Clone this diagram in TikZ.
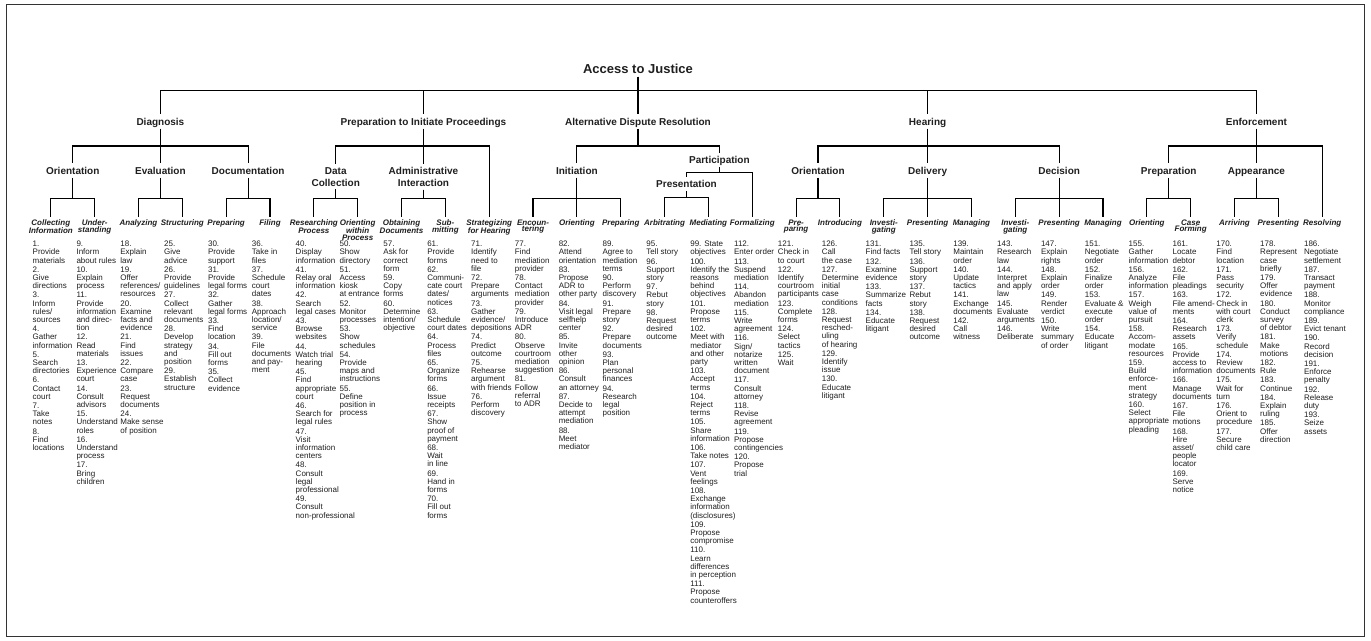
\documentclass[tikz,border=0pt]{standalone}
\usepackage{fontspec}
\setmainfont{Liberation Sans}
\definecolor{txt}{gray}{0.12}
\newcommand\NI{\\[1pt]}
\begin{document}
\begin{tikzpicture}[x=1pt,y=-1pt,
  conn/.style={line width=1.1pt, draw=black, line join=miter},
  ttl/.style={font=\bfseries\fontsize{13}{15}\selectfont, text=txt, inner xsep=1pt, inner ysep=3pt},
  lone/.style={font=\bfseries\fontsize{10}{12}\selectfont, text=txt, inner xsep=1pt, inner ysep=2.8pt, text height=8pt, text depth=0.5pt},
  ltwo/.style={font=\bfseries\fontsize{10}{12}\selectfont, text=txt, inner xsep=1pt, inner ysep=2.8pt, align=center, anchor=north},
  lthree/.style={font=\bfseries\itshape\fontsize{8}{6.8}\selectfont, text=txt, inner xsep=0pt, inner ysep=2.5pt, align=center, anchor=north},
  lst/.style={font=\fontsize{8}{8.2}\selectfont, text=txt, inner sep=0pt, align=left, anchor=north west}]
\useasboundingbox (0,0) rectangle (1371,640);
\draw[line width=0.9pt, draw=black!80] (6,4) rectangle (1364,636);

\coordinate (y0) at (0,90.7);
\coordinate (y1) at (0,146);
\coordinate (y2) at (0,198.3);
\coordinate (yP) at (0,172.3);
\coordinate (yQ) at (0,197.7);

% title and level 1
\node[ttl] (title) at (638,69) {Access to Justice};
\node[lone] (dia) at (160.4,121.55) {Diagnosis};
\node[lone] (pip) at (423.44,121.55) {Preparation to Initiate Proceedings};
\node[lone] (adr) at (638,121.55) {Alternative Dispute Resolution};
\node[lone] (hea) at (927.6,121.55) {Hearing};
\node[lone] (enf) at (1256.4,121.55) {Enforcement};

% level 2
\node[lone] (dOri) at (72.72,170.55) {Orientation};
\node[lone] (dEva) at (160.4,170.55) {Evaluation};
\node[lone] (dDoc) at (248.08,170.55) {Documentation};
\node[ltwo] (pDat) at (335.76,164.3) {Data\\Collection};
\node[ltwo] (pAdm) at (423.44,164.3) {Administrative\\Interaction};
\node[lone] (aIni) at (576.88,170.55) {Initiation};
\node[lone] (aPar) at (719.36,160.15) {Participation};
\node[lone] (aPre) at (686.48,184.15) {Presentation};
\node[lone] (hOri) at (818,170.55) {Orientation};
\node[lone] (hDel) at (927.6,170.55) {Delivery};
\node[lone] (hDec) at (1059.12,170.55) {Decision};
\node[lone] (ePre) at (1168.72,170.55) {Preparation};
\node[lone] (eApp) at (1256.4,170.55) {Appearance};

% level 3 headings
\node[lthree] (h0) at ({50.8+43.84*0},216.8) {Collecting\\Information};
\node[lthree] (h1) at ({50.8+43.84*1},216.8) {Under-\\standing};
\node[lthree] (h2) at ({50.8+43.84*2},216.8) {Analyzing};
\node[lthree] (h3) at ({50.8+43.84*3},216.8) {Structuring};
\node[lthree] (h4) at ({50.8+43.84*4},216.8) {Preparing};
\node[lthree] (h5) at ({50.8+43.84*5},216.8) {Filing};
\node[lthree] (h6) at ({50.8+43.84*6},216.8) {Researching\\Process};
\node[lthree] (h7) at ({50.8+43.84*7},216.8) {Orienting\\within\\Process};
\node[lthree] (h8) at ({50.8+43.84*8},216.8) {Obtaining\\Documents};
\node[lthree] (h9) at ({50.8+43.84*9},216.8) {Sub-\\mitting};
\node[lthree] (h10) at ({50.8+43.84*10},216.8) {Strategizing\\for Hearing};
\node[lthree] (h11) at ({50.8+43.84*11},216.8) {Encoun-\\tering};
\node[lthree] (h12) at ({50.8+43.84*12},216.8) {Orienting};
\node[lthree] (h13) at ({50.8+43.84*13},216.8) {Preparing};
\node[lthree] (h14) at ({50.8+43.84*14},216.8) {Arbitrating};
\node[lthree] (h15) at ({50.8+43.84*15},216.8) {Mediating};
\node[lthree] (h16) at ({50.8+43.84*16},216.8) {Formalizing};
\node[lthree] (h17) at ({50.8+43.84*17},216.8) {Pre-\\paring};
\node[lthree] (h18) at ({50.8+43.84*18},216.8) {Introducing};
\node[lthree] (h19) at ({50.8+43.84*19},216.8) {Investi-\\gating};
\node[lthree] (h20) at ({50.8+43.84*20},216.8) {Presenting};
\node[lthree] (h21) at ({50.8+43.84*21},216.8) {Managing};
\node[lthree] (h22) at ({50.8+43.84*22},216.8) {Investi-\\gating};
\node[lthree] (h23) at ({50.8+43.84*23},216.8) {Presenting};
\node[lthree] (h24) at ({50.8+43.84*24},216.8) {Managing};
\node[lthree] (h25) at ({50.8+43.84*25},216.8) {Orienting};
\node[lthree] (h26) at ({50.8+43.84*26},216.8) {Case\\Forming};
\node[lthree] (h27) at ({50.8+43.84*27},216.8) {Arriving};
\node[lthree] (h28) at ({50.8+43.84*28},216.8) {Presenting};
\node[lthree] (h29) at ({50.8+43.84*29},216.8) {Resolving};

% lists
\node[lst] (l0) at ({32.5+43.84*0},241) {1.\\Provide\\materials\NI 2.\\Give\\directions\NI 3.\\Inform\\rules/\\sources\NI 4.\\Gather\\information\NI 5.\\Search\\directories\NI 6.\\Contact\\court\NI 7.\\Take\\notes\NI 8.\\Find\\locations};
\node[lst] (l1) at ({32.5+43.84*1},241) {9.\\Inform\\about rules\NI 10.\\Explain\\process\NI 11.\\Provide\\information\\and direc-\\tion\NI 12.\\Read\\materials\NI 13.\\Experience\\court\NI 14.\\Consult\\advisors\NI 15.\\Understand\\roles\NI 16.\\Understand\\process\NI 17.\\Bring\\children};
\node[lst] (l2) at ({32.5+43.84*2},241) {18.\\Explain\\law\NI 19.\\Offer\\references/\\resources\NI 20.\\Examine\\facts and\\evidence\NI 21.\\Find\\issues\NI 22.\\Compare\\case\NI 23.\\Request\\documents\NI 24.\\Make sense\\of position};
\node[lst] (l3) at ({32.5+43.84*3},241) {25.\\Give\\advice\NI 26.\\Provide\\guidelines\NI 27.\\Collect\\relevant\\documents\NI 28.\\Develop\\strategy\\and\\position\NI 29.\\Establish\\structure};
\node[lst] (l4) at ({32.5+43.84*4},241) {30.\\Provide\\support\NI 31.\\Provide\\legal forms\NI 32.\\Gather\\legal forms\NI 33.\\Find\\location\NI 34.\\Fill out\\forms\NI 35.\\Collect\\evidence};
\node[lst] (l5) at ({32.5+43.84*5},241) {36.\\Take in\\files\NI 37.\\Schedule\\court\\dates\NI 38.\\Approach\\location/\\service\NI 39.\\File\\documents\\and pay-\\ment};
\node[lst] (l6) at ({32.5+43.84*6},241) {40.\\Display\\information\NI 41.\\Relay oral\\information\NI 42.\\Search\\legal cases\NI 43.\\Browse\\websites\NI 44.\\Watch trial\\hearing\NI 45.\\Find\\appropriate\\court\NI 46.\\Search for\\legal rules\NI 47.\\Visit\\information\\centers\NI 48.\\Consult\\legal\\professional\NI 49.\\Consult\\non-professional};
\node[lst] (l7) at ({32.5+43.84*7},241) {50.\\Show\\directory\NI 51.\\Access\\kiosk\\at entrance\NI 52.\\Monitor\\processes\NI 53.\\Show\\schedules\NI 54.\\Provide\\maps and\\instructions\NI 55.\\Define\\position in\\process};
\node[lst] (l8) at ({32.5+43.84*8},241) {57.\\Ask for\\correct\\form\NI 59.\\Copy\\forms\NI 60.\\Determine\\intention/\\objective};
\node[lst] (l9) at ({32.5+43.84*9},241) {61.\\Provide\\forms\NI 62.\\Communi-\\cate court\\dates/\\notices\NI 63.\\Schedule\\court dates\NI 64.\\Process\\files\NI 65.\\Organize\\forms\NI 66.\\Issue\\receipts\NI 67.\\Show\\proof of\\payment\NI 68.\\Wait\\in line\NI 69.\\Hand in\\forms\NI 70.\\Fill out\\forms};
\node[lst] (l10) at ({32.5+43.84*10},241) {71.\\Identify\\need to\\file\NI 72.\\Prepare\\arguments\NI 73.\\Gather\\evidence/\\depositions\NI 74.\\Predict\\outcome\NI 75.\\Rehearse\\argument\\with friends\NI 76.\\Perform\\discovery};
\node[lst] (l11) at ({32.5+43.84*11},241) {77.\\Find\\mediation\\provider\NI 78.\\Contact\\mediation\\provider\NI 79.\\Introduce\\ADR\NI 80.\\Observe\\courtroom\\mediation\\suggestion\NI 81.\\Follow\\referral\\to ADR};
\node[lst] (l12) at ({32.5+43.84*12},241) {82.\\Attend\\orientation\NI 83.\\Propose\\ADR to\\other party\NI 84.\\Visit legal\\selfhelp\\center\NI 85.\\Invite\\other\\opinion\NI 86.\\Consult\\an attorney\NI 87.\\Decide to\\attempt\\mediation\NI 88.\\Meet\\mediator};
\node[lst] (l13) at ({32.5+43.84*13},241) {89.\\Agree to\\mediation\\terms\NI 90.\\Perform\\discovery\NI 91.\\Prepare\\story\NI 92.\\Prepare\\documents\NI 93.\\Plan\\personal\\finances\NI 94.\\Research\\legal\\position};
\node[lst] (l14) at ({32.5+43.84*14},241) {95.\\Tell story\NI 96.\\Support\\story\NI 97.\\Rebut\\story\NI 98.\\Request\\desired\\outcome};
\node[lst] (l15) at ({32.5+43.84*15},241) {99. State\\objectives\NI 100.\\Identify the\\reasons\\behind\\objectives\NI 101.\\Propose\\terms\NI 102.\\Meet with\\mediator\\and other\\party\NI 103.\\Accept\\terms\NI 104.\\Reject\\terms\NI 105.\\Share\\information\NI 106.\\Take notes\NI 107.\\Vent\\feelings\NI 108.\\Exchange\\information\\(disclosures)\NI 109.\\Propose\\compromise\NI 110.\\Learn\\differences\\in perception\NI 111.\\Propose\\counteroffers};
\node[lst] (l16) at ({32.5+43.84*16},241) {112.\\Enter order\NI 113.\\Suspend\\mediation\NI 114.\\Abandon\\mediation\NI 115.\\Write\\agreement\NI 116.\\Sign/\\notarize\\written\\document\NI 117.\\Consult\\attorney\NI 118.\\Revise\\agreement\NI 119.\\Propose\\contingencies\NI 120.\\Propose\\trial};
\node[lst] (l17) at ({32.5+43.84*17},241) {121.\\Check in\\to court\NI 122.\\Identify\\courtroom\\participants\NI 123.\\Complete\\forms\NI 124.\\Select\\tactics\NI 125.\\Wait};
\node[lst] (l18) at ({32.5+43.84*18},241) {126.\\Call\\the case\NI 127.\\Determine\\initial\\case\\conditions\NI 128.\\Request\\resched-\\uling\\of hearing\NI 129.\\Identify\\issue\NI 130.\\Educate\\litigant};
\node[lst] (l19) at ({32.5+43.84*19},241) {131.\\Find facts\NI 132.\\Examine\\evidence\NI 133.\\Summarize\\facts\NI 134.\\Educate\\litigant};
\node[lst] (l20) at ({32.5+43.84*20},241) {135.\\Tell story\NI 136.\\Support\\story\NI 137.\\Rebut\\story\NI 138.\\Request\\desired\\outcome};
\node[lst] (l21) at ({32.5+43.84*21},241) {139.\\Maintain\\order\NI 140.\\Update\\tactics\NI 141.\\Exchange\\documents\NI 142.\\Call\\witness};
\node[lst] (l22) at ({32.5+43.84*22},241) {143.\\Research\\law\NI 144.\\Interpret\\and apply\\law\NI 145.\\Evaluate\\arguments\NI 146.\\Deliberate};
\node[lst] (l23) at ({32.5+43.84*23},241) {147.\\Explain\\rights\NI 148.\\Explain\\order\NI 149.\\Render\\verdict\NI 150.\\Write\\summary\\of order};
\node[lst] (l24) at ({32.5+43.84*24},241) {151.\\Negotiate\\order\NI 152.\\Finalize\\order\NI 153.\\Evaluate \&\\execute\\order\NI 154.\\Educate\\litigant};
\node[lst] (l25) at ({32.5+43.84*25},241) {155.\\Gather\\information\NI 156.\\Analyze\\information\NI 157.\\Weigh\\value of\\pursuit\NI 158.\\Accom-\\modate\\resources\NI 159.\\Build\\enforce-\\ment\\strategy\NI 160.\\Select\\appropriate\\pleading};
\node[lst] (l26) at ({32.5+43.84*26},241) {161.\\Locate\\debtor\NI 162.\\File\\pleadings\NI 163.\\File amend-\\ments\NI 164.\\Research\\assets\NI 165.\\Provide\\access to\\information\NI 166.\\Manage\\documents\NI 167.\\File\\motions\NI 168.\\Hire\\asset/\\people\\locator\NI 169.\\Serve\\notice};
\node[lst] (l27) at ({32.5+43.84*27},241) {170.\\Find\\location\NI 171.\\Pass\\security\NI 172.\\Check in\\with court\\clerk\NI 173.\\Verify\\schedule\NI 174.\\Review\\documents\NI 175.\\Wait for\\turn\NI 176.\\Orient to\\procedure\NI 177.\\Secure\\child care};
\node[lst] (l28) at ({32.5+43.84*28},241) {178.\\Represent\\case\\briefly\NI 179.\\Offer\\evidence\NI 180.\\Conduct\\survey\\of debtor\NI 181.\\Make\\motions\NI 182.\\Rule\NI 183.\\Continue\NI 184.\\Explain\\ruling\NI 185.\\Offer\\direction};
\node[lst] (l29) at ({32.5+43.84*29},241) {186.\\Negotiate\\settlement\NI 187.\\Transact\\payment\NI 188.\\Monitor\\compliance\NI 189.\\Evict tenant\NI 190.\\Record\\decision\NI 191.\\Enforce\\penalty\NI 192.\\Release\\duty\NI 193.\\Seize\\assets};

% connectors
\foreach \p/\c/\y in {title/dia/y0, title/pip/y0, title/adr/y0, title/hea/y0, title/enf/y0,
  dia/dOri/y1, dia/dEva/y1, dia/dDoc/y1,
  pip/pDat/y1, pip/pAdm/y1, pip/h10/y1,
  adr/aIni/y1, adr/aPar/y1,
  hea/hOri/y1, hea/hDel/y1, hea/hDec/y1,
  enf/ePre/y1, enf/eApp/y1, enf/h29/y1,
  dOri/h0/y2, dOri/h1/y2, dEva/h2/y2, dEva/h3/y2, dDoc/h4/y2, dDoc/h5/y2,
  pDat/h6/y2, pDat/h7/y2, pAdm/h8/y2, pAdm/h9/y2,
  aIni/h11/y2, aIni/h12/y2, aIni/h13/y2,
  aPar/aPre/yP, aPar/h16/yP, aPre/h14/yQ, aPre/h15/yQ,
  hOri/h17/y2, hOri/h18/y2, hDel/h19/y2, hDel/h20/y2, hDel/h21/y2,
  hDec/h22/y2, hDec/h23/y2, hDec/h24/y2,
  ePre/h25/y2, ePre/h26/y2, eApp/h27/y2, eApp/h28/y2}
  \draw[conn] (\p.south) |- (\c.north |- \y) -- (\c.north);
\end{tikzpicture}
\end{document}
